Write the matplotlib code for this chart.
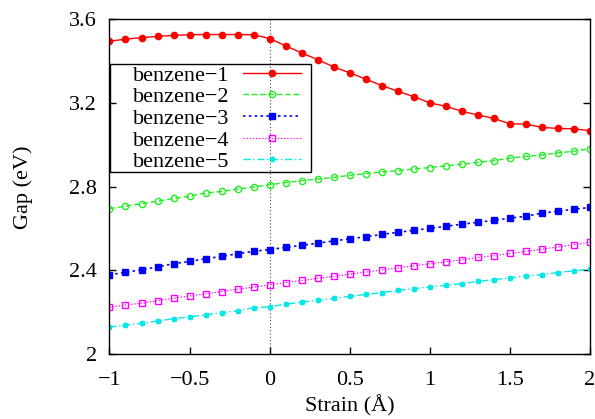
import matplotlib
matplotlib.use("Agg")
import matplotlib.pyplot as plt
from matplotlib.patches import Rectangle

strain = [-1.0, -0.9, -0.8, -0.7, -0.6, -0.5, -0.4, -0.3, -0.2, -0.1, 0.0,
          0.1, 0.2, 0.3, 0.4, 0.5, 0.6, 0.7, 0.8, 0.9, 1.0,
          1.1, 1.2, 1.3, 1.4, 1.5, 1.6, 1.7, 1.8, 1.9, 2.0]

benzene1 = [3.496, 3.506, 3.513, 3.519, 3.524, 3.527, 3.528, 3.528, 3.528, 3.527, 3.509,
            3.474, 3.440, 3.408, 3.373, 3.345, 3.315, 3.284, 3.257, 3.231, 3.201,
            3.185, 3.161, 3.143, 3.127, 3.101, 3.100, 3.084, 3.079, 3.077, 3.068]
benzene2 = [2.695, 2.707, 2.719, 2.731, 2.744, 2.755, 2.770, 2.778, 2.789, 2.799, 2.810,
            2.820, 2.829, 2.837, 2.845, 2.855, 2.863, 2.871, 2.877, 2.885, 2.892,
            2.900, 2.908, 2.917, 2.925, 2.937, 2.945, 2.952, 2.962, 2.970, 2.983]
benzene3 = [2.379, 2.391, 2.403, 2.417, 2.432, 2.443, 2.456, 2.467, 2.480, 2.491, 2.500,
            2.510, 2.520, 2.530, 2.541, 2.551, 2.561, 2.572, 2.582, 2.592, 2.601,
            2.611, 2.621, 2.630, 2.640, 2.650, 2.659, 2.674, 2.683, 2.693, 2.701]
benzene4 = [2.224, 2.235, 2.243, 2.255, 2.267, 2.278, 2.288, 2.299, 2.310, 2.320, 2.331,
            2.342, 2.352, 2.362, 2.372, 2.382, 2.392, 2.402, 2.412, 2.422, 2.432,
            2.441, 2.451, 2.462, 2.470, 2.481, 2.491, 2.502, 2.512, 2.523, 2.534]
benzene5 = [2.130, 2.138, 2.147, 2.158, 2.169, 2.178, 2.188, 2.198, 2.207, 2.222, 2.226,
            2.239, 2.248, 2.257, 2.266, 2.276, 2.285, 2.294, 2.304, 2.313, 2.321,
            2.329, 2.337, 2.347, 2.356, 2.364, 2.374, 2.380, 2.390, 2.398, 2.406]

labels = ["benzene\u22121", "benzene\u22122", "benzene\u22123", "benzene\u22124", "benzene\u22125"]
xticks = [-1, -0.5, 0, 0.5, 1, 1.5, 2]
yticks = [2, 2.4, 2.8, 3.2, 3.6]

plt.rcParams['font.family'] = ['Liberation Serif', 'DejaVu Serif']
plt.rcParams['font.size'] = 16

fig = plt.figure(figsize=(5.95, 4.19), dpi=100)
ax = fig.add_axes([0.184, 0.155, 0.8076, 0.7985])

ax.axvline(0, color='#444444', linestyle=(0, (1, 2)), linewidth=0.8, zorder=1)

ax.plot(strain, benzene1, color='#ff0000', linestyle='-', linewidth=1,
        marker='o', markersize=4.5, label=labels[0])
ax.plot(strain, benzene2, color='#22ee22', linestyle=(0, (4, 2)), linewidth=1,
        marker='o', markersize=4.5, markerfacecolor='none', markeredgewidth=1, label=labels[1])
ax.plot(strain, benzene3, color='#0000ff', linestyle=(0, (1.5, 2)), linewidth=1.2,
        marker='s', markersize=4.5, markerfacecolor='#0000ff', markeredgecolor='#0000ff',
        label=labels[2])
ax.plot(strain, benzene4, color='#ff00ff', linestyle=(0, (1, 1.5)), linewidth=0.9,
        marker='s', markersize=4.5, markerfacecolor='none', markeredgewidth=1, label=labels[3])
ax.plot(strain, benzene5, color='#00e8e8', linestyle=(0, (5, 2, 1, 2)), linewidth=1,
        marker=(8, 2, 0), markersize=4, markeredgewidth=1, label=labels[4])

ax.set_xlim(-1, 2)
ax.set_ylim(2, 3.6)
ax.set_xticks(xticks)
ax.set_yticks(yticks)
ax.set_xticklabels(["\u22121", "\u22120.5", "0", "0.5", "1", "1.5", "2"])
ax.set_yticklabels(["2", "2.4", "2.8", "3.2", "3.6"])
ax.tick_params(axis='both', direction='in', length=5, width=1)
ax.tick_params(axis='x', pad=12)
ax.tick_params(axis='y', right=True, pad=9)
for s in ax.spines.values():
    s.set_linewidth(1)

ax.set_xlabel("Strain (\u00c5)", labelpad=4)
ax.set_ylabel("Gap (eV)", labelpad=26)

# legend without frame, gnuplot-style box drawn separately
leg = ax.legend(loc='upper left', bbox_to_anchor=(0.049, 0.864), markerfirst=False,
                frameon=False, handlelength=2.6, labelspacing=0.05, borderpad=0,
                handletextpad=0.62, borderaxespad=0)
ax.add_patch(Rectangle((0.001, 0.544), 0.419, 0.323, transform=ax.transAxes,
                       fill=False, edgecolor='black', linewidth=1, zorder=5))

fig.savefig("out.png", dpi=100)
